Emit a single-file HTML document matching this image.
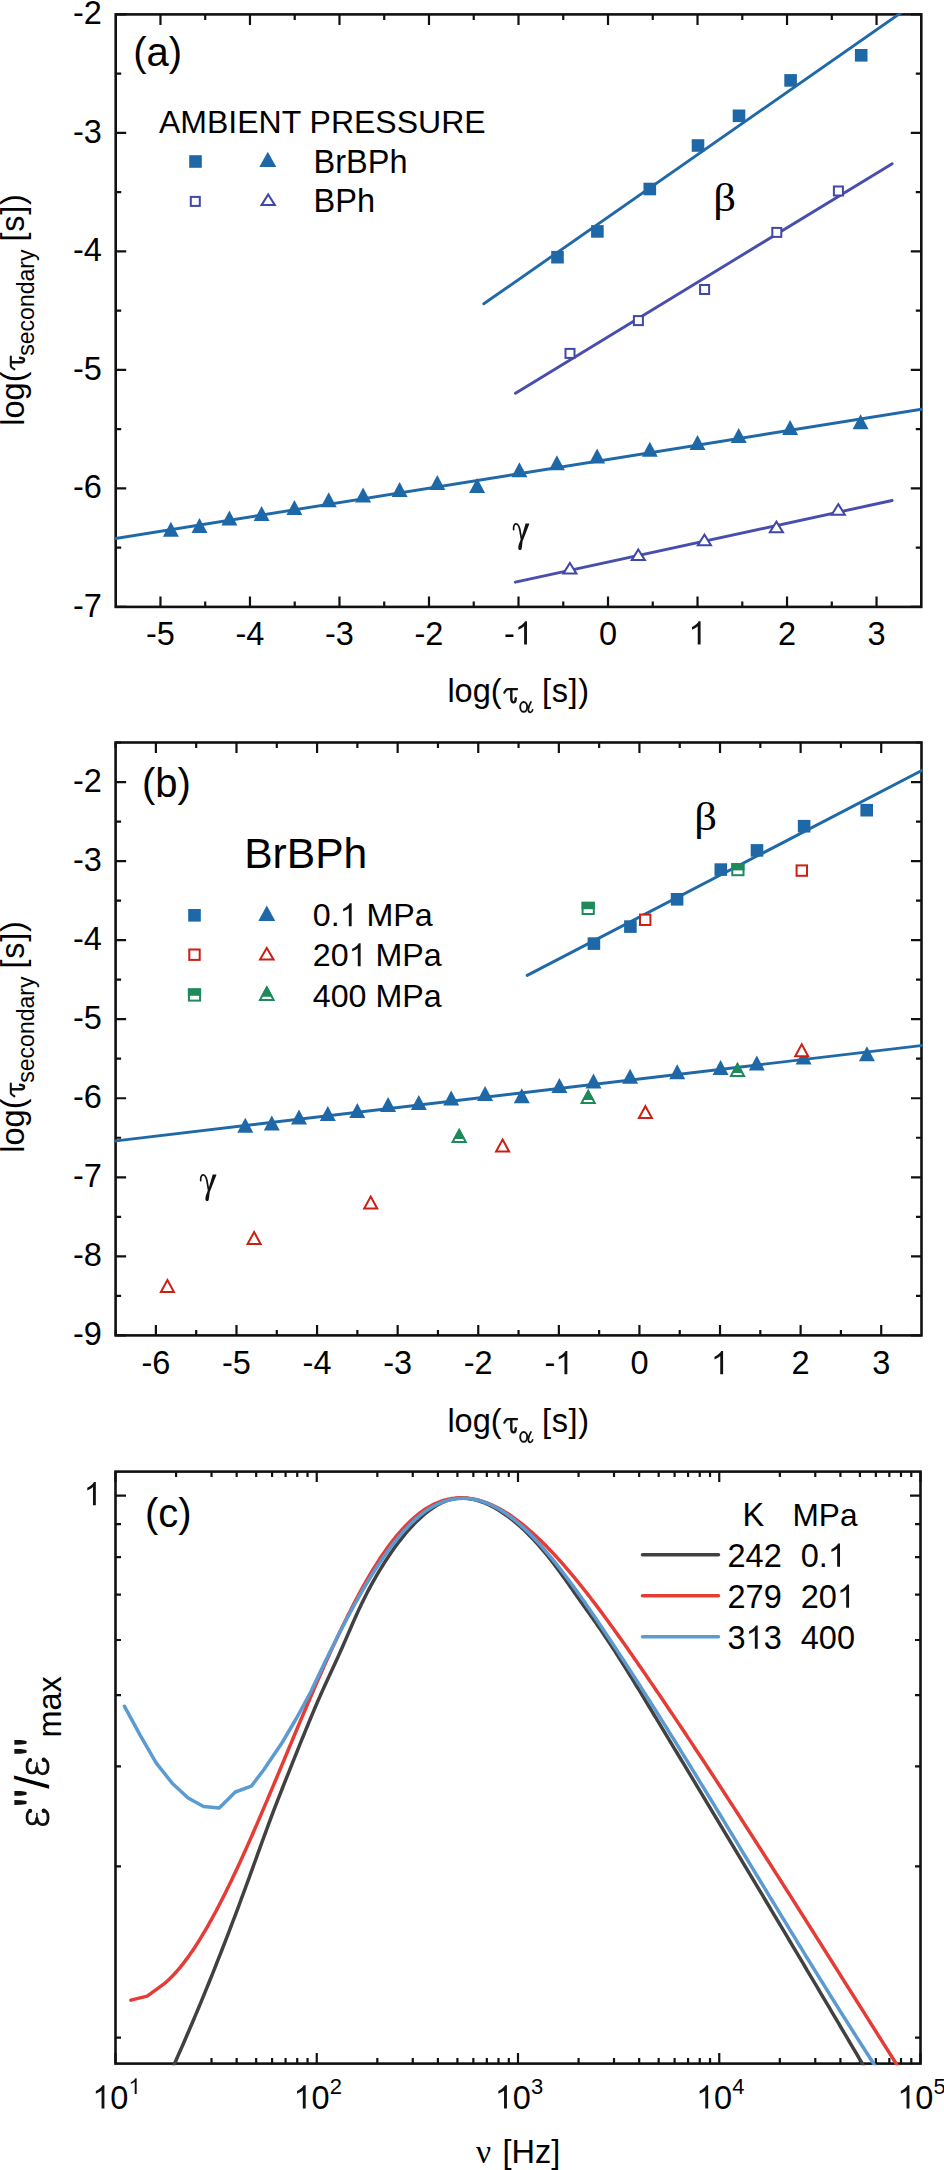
<!DOCTYPE html>
<html><head><meta charset="utf-8"><title>figure</title>
<style>html,body{margin:0;padding:0;background:#fff;}svg{display:block;}</style>
</head><body>
<svg width="944" height="2170" viewBox="0 0 944 2170">
<rect width="944" height="2170" fill="#fff"/>
<g id="pa">
<rect x="115.7" y="14.4" width="805.6" height="592.5" fill="none" stroke="#111" stroke-width="2.6"/>
<path d="M160.46 606.9V596.4M160.46 14.4V24.9M249.97 606.9V596.4M249.97 14.4V24.9M339.48 606.9V596.4M339.48 14.4V24.9M428.99 606.9V596.4M428.99 14.4V24.9M518.5 606.9V596.4M518.5 14.4V24.9M608.01 606.9V596.4M608.01 14.4V24.9M697.52 606.9V596.4M697.52 14.4V24.9M787.03 606.9V596.4M787.03 14.4V24.9M876.54 606.9V596.4M876.54 14.4V24.9" stroke="#111" stroke-width="2.2" fill="none"/>
<path d="M205.21 606.9V601.4M205.21 14.4V19.9M294.72 606.9V601.4M294.72 14.4V19.9M384.23 606.9V601.4M384.23 14.4V19.9M473.74 606.9V601.4M473.74 14.4V19.9M563.26 606.9V601.4M563.26 14.4V19.9M652.77 606.9V601.4M652.77 14.4V19.9M742.28 606.9V601.4M742.28 14.4V19.9M831.79 606.9V601.4M831.79 14.4V19.9" stroke="#111" stroke-width="2.2" fill="none"/>
<path d="M115.7 14.4H126.2M921.3 14.4H910.8M115.7 132.9H126.2M921.3 132.9H910.8M115.7 251.4H126.2M921.3 251.4H910.8M115.7 369.9H126.2M921.3 369.9H910.8M115.7 488.4H126.2M921.3 488.4H910.8M115.7 606.9H126.2M921.3 606.9H910.8" stroke="#111" stroke-width="2.2" fill="none"/>
<path d="M115.7 73.65H121.2M921.3 73.65H915.8M115.7 192.15H121.2M921.3 192.15H915.8M115.7 310.65H121.2M921.3 310.65H915.8M115.7 429.15H121.2M921.3 429.15H915.8M115.7 547.65H121.2M921.3 547.65H915.8" stroke="#111" stroke-width="2.2" fill="none"/>
<clipPath id="ca"><rect x="114.5" y="13.2" width="808" height="594.9"/></clipPath>
<g clip-path="url(#ca)">
<line x1="483.8" y1="303.8" x2="940" y2="-14.5" stroke="#2069a9" stroke-width="2.9" stroke-linecap="round"/>
<line x1="515.5" y1="393.2" x2="892.2" y2="163.7" stroke="#474eae" stroke-width="2.9" stroke-linecap="round"/>
<line x1="100" y1="541" x2="940" y2="406.2" stroke="#2069a9" stroke-width="2.9" stroke-linecap="round"/>
<line x1="515.4" y1="582.2" x2="892.1" y2="500.5" stroke="#474eae" stroke-width="2.9" stroke-linecap="round"/>
</g>
<rect x="551.2" y="250.9" width="12.6" height="12.6" fill="#1f68a8"/>
<rect x="591.1" y="225.1" width="12.6" height="12.6" fill="#1f68a8"/>
<rect x="643.5" y="182.7" width="12.6" height="12.6" fill="#1f68a8"/>
<rect x="691.7" y="139.2" width="12.6" height="12.6" fill="#1f68a8"/>
<rect x="732.7" y="109.5" width="12.6" height="12.6" fill="#1f68a8"/>
<rect x="784.3" y="74.1" width="12.6" height="12.6" fill="#1f68a8"/>
<rect x="854.9" y="49" width="12.6" height="12.6" fill="#1f68a8"/>
<rect x="565.5" y="348.9" width="9" height="9" fill="#fff" stroke="#4047a8" stroke-width="2.0"/>
<rect x="633.9" y="316.1" width="9" height="9" fill="#fff" stroke="#4047a8" stroke-width="2.0"/>
<rect x="700.1" y="285" width="9" height="9" fill="#fff" stroke="#4047a8" stroke-width="2.0"/>
<rect x="772.3" y="227.9" width="9" height="9" fill="#fff" stroke="#4047a8" stroke-width="2.0"/>
<rect x="833.9" y="186.5" width="9" height="9" fill="#fff" stroke="#4047a8" stroke-width="2.0"/>
<path d="M170.9 521.7L178.9 536.7L162.9 536.7Z" fill="#1f68a8"/>
<path d="M199.5 518.1L207.5 533.1L191.5 533.1Z" fill="#1f68a8"/>
<path d="M229.4 510.5L237.4 525.5L221.4 525.5Z" fill="#1f68a8"/>
<path d="M261.6 506L269.6 521L253.6 521Z" fill="#1f68a8"/>
<path d="M294.4 500.1L302.4 515.1L286.4 515.1Z" fill="#1f68a8"/>
<path d="M328.7 492.2L336.7 507.2L320.7 507.2Z" fill="#1f68a8"/>
<path d="M363.1 487.4L371.1 502.4L355.1 502.4Z" fill="#1f68a8"/>
<path d="M399.6 481.9L407.6 496.9L391.6 496.9Z" fill="#1f68a8"/>
<path d="M437.3 475L445.3 490L429.3 490Z" fill="#1f68a8"/>
<path d="M477.1 478.1L485.1 493.1L469.1 493.1Z" fill="#1f68a8"/>
<path d="M519.4 462.2L527.4 477.2L511.4 477.2Z" fill="#1f68a8"/>
<path d="M556.9 455.3L564.9 470.3L548.9 470.3Z" fill="#1f68a8"/>
<path d="M597.1 448.4L605.1 463.4L589.1 463.4Z" fill="#1f68a8"/>
<path d="M649.8 441.8L657.8 456.8L641.8 456.8Z" fill="#1f68a8"/>
<path d="M697.5 435L705.5 450L689.5 450Z" fill="#1f68a8"/>
<path d="M738.7 428L746.7 443L730.7 443Z" fill="#1f68a8"/>
<path d="M790.1 420.1L798.1 435.1L782.1 435.1Z" fill="#1f68a8"/>
<path d="M860.6 414.2L868.6 429.2L852.6 429.2Z" fill="#1f68a8"/>
<path d="M569.9 563L576.46 573.6L563.34 573.6Z" fill="#fff" stroke="#4047a8" stroke-width="2.0" stroke-linejoin="miter"/>
<path d="M638.3 549.5L644.86 560.1L631.74 560.1Z" fill="#fff" stroke="#4047a8" stroke-width="2.0" stroke-linejoin="miter"/>
<path d="M704.4 534.6L710.96 545.2L697.84 545.2Z" fill="#fff" stroke="#4047a8" stroke-width="2.0" stroke-linejoin="miter"/>
<path d="M776.4 521.6L782.96 532.2L769.84 532.2Z" fill="#fff" stroke="#4047a8" stroke-width="2.0" stroke-linejoin="miter"/>
<path d="M838.3 504.1L844.86 514.7L831.74 514.7Z" fill="#fff" stroke="#4047a8" stroke-width="2.0" stroke-linejoin="miter"/>
<text x="160.46" y="644.5" font-size="32.5" text-anchor="middle" style="font-family:'Liberation Sans',sans-serif" >-5</text>
<text x="249.97" y="644.5" font-size="32.5" text-anchor="middle" style="font-family:'Liberation Sans',sans-serif" >-4</text>
<text x="339.48" y="644.5" font-size="32.5" text-anchor="middle" style="font-family:'Liberation Sans',sans-serif" >-3</text>
<text x="428.99" y="644.5" font-size="32.5" text-anchor="middle" style="font-family:'Liberation Sans',sans-serif" >-2</text>
<path d="M763 0L583 0L583 1147C540 1106 483 1065 413 1024C343 983 280 952 223 930L223 1104C324 1151 412 1208 487 1276C562 1343 615 1409 646 1466L763 1466Z" transform="translate(514.87 644.5) scale(0.01587 -0.01587)" fill="#111"/>
<text x="504.05" y="644.5" font-size="32.5" style="font-family:'Liberation Sans',sans-serif" >-&#8199;</text>
<text x="608.01" y="644.5" font-size="32.5" text-anchor="middle" style="font-family:'Liberation Sans',sans-serif" >0</text>
<path d="M763 0L583 0L583 1147C540 1106 483 1065 413 1024C343 983 280 952 223 930L223 1104C324 1151 412 1208 487 1276C562 1343 615 1409 646 1466L763 1466Z" transform="translate(688.48 644.5) scale(0.01587 -0.01587)" fill="#111"/>
<text x="688.48" y="644.5" font-size="32.5" style="font-family:'Liberation Sans',sans-serif" >&#8199;</text>
<text x="787.03" y="644.5" font-size="32.5" text-anchor="middle" style="font-family:'Liberation Sans',sans-serif" >2</text>
<text x="876.54" y="644.5" font-size="32.5" text-anchor="middle" style="font-family:'Liberation Sans',sans-serif" >3</text>
<text x="101.8" y="24.2" font-size="32.5" text-anchor="end" style="font-family:'Liberation Sans',sans-serif" >-2</text>
<text x="101.8" y="142.7" font-size="32.5" text-anchor="end" style="font-family:'Liberation Sans',sans-serif" >-3</text>
<text x="101.8" y="261.2" font-size="32.5" text-anchor="end" style="font-family:'Liberation Sans',sans-serif" >-4</text>
<text x="101.8" y="379.7" font-size="32.5" text-anchor="end" style="font-family:'Liberation Sans',sans-serif" >-5</text>
<text x="101.8" y="498.2" font-size="32.5" text-anchor="end" style="font-family:'Liberation Sans',sans-serif" >-6</text>
<text x="101.8" y="616.7" font-size="32.5" text-anchor="end" style="font-family:'Liberation Sans',sans-serif" >-7</text>
<text x="133.2" y="66" font-size="40" text-anchor="start" style="font-family:'Liberation Sans',sans-serif" >(a)</text>
<text x="159" y="133.1" font-size="32" text-anchor="start" style="font-family:'Liberation Sans',sans-serif" >AMBIENT PRESSURE</text>
<text x="313.6" y="173.2" font-size="32.5" text-anchor="start" style="font-family:'Liberation Sans',sans-serif" >BrBPh</text>
<text x="313.6" y="212.3" font-size="32.5" text-anchor="start" style="font-family:'Liberation Sans',sans-serif" >BPh</text>
<rect x="189.2" y="155.2" width="12.6" height="12.6" fill="#1f68a8"/>
<path d="M267.8 151.8L276.3 167.1L259.3 167.1Z" fill="#1f68a8"/>
<rect x="190.8" y="196.9" width="9" height="9" fill="#fff" stroke="#4047a8" stroke-width="2.0"/>
<path d="M268.2 194.48L274.89 205.1L261.51 205.1Z" fill="#fff" stroke="#4047a8" stroke-width="2.0" stroke-linejoin="miter"/>
<text transform="translate(713.3 211) scale(1.11 1)" font-size="40.3" style="font-family:'Liberation Serif',serif">&#946;</text>
<g transform="translate(512.7 523)">
<path d="M0.9 6.6C0.6 3.2 1.6 0.9 3.3 0.9C5.4 0.9 6.4 3.2 7.2 7.0L8.9 16.8" fill="none" stroke="#111" stroke-width="1.7" stroke-linecap="round"/>
<path d="M12.9 0.4L16.6 0.4L16.4 1.4L10.2 17.6L7.9 17.6Z" fill="#111"/>
<path d="M8.0 16.8C6.4 20.2 5.4 23.4 5.6 25.6C5.8 27.4 8.4 27.8 8.9 25.7C9.4 23.6 9.6 20.4 10.1 16.8Z" fill="#111"/>
</g>
<text x="447.4" y="702.3" font-size="32.5" style="font-family:'Liberation Sans',sans-serif">log(</text>
<g transform="translate(503.2 702.3)"><path d="M1.1 -9.6C2.1 -11.6 3.0 -13.1 4.6 -13.2L13.9 -13.2" fill="none" stroke="#111" stroke-width="2.1" stroke-linecap="round"/><path d="M8.1 -12.8L8.1 -3.6C8.1 -1.0 9.1 0.1 10.4 0.1C11.7 0.1 12.4 -1.8 12.6 -4.0" fill="none" stroke="#111" stroke-width="2.4" stroke-linecap="round"/></g>
<g transform="translate(0 0)">
<ellipse cx="523.7" cy="706.9" rx="3.5" ry="4.9" fill="none" stroke="#111" stroke-width="1.9"/>
<path d="M531.0 702.0C529.6 704.4 528.3 707.4 528.3 709.5C528.3 711.6 529.5 712.3 530.5 712.3C531.5 712.3 532.3 711.2 532.7 709.8" fill="none" stroke="#111" stroke-width="1.7" stroke-linecap="round"/>
</g>
<text x="542.1" y="702.3" font-size="32.5" letter-spacing="0.6" style="font-family:'Liberation Sans',sans-serif">[s])</text>
<g transform="translate(24 425) rotate(-90)">
<text x="-0.7" y="0" font-size="32.5" style="font-family:'Liberation Sans',sans-serif">log(</text>
<g transform="translate(54.6 0)"><path d="M1.1 -9.6C2.1 -11.6 3.0 -13.1 4.6 -13.2L13.9 -13.2" fill="none" stroke="#111" stroke-width="2.1" stroke-linecap="round"/><path d="M8.1 -12.8L8.1 -3.6C8.1 -1.0 9.1 0.1 10.4 0.1C11.7 0.1 12.4 -1.8 12.6 -4.0" fill="none" stroke="#111" stroke-width="2.4" stroke-linecap="round"/></g>
<text x="69.3" y="10.0" font-size="23" style="font-family:'Liberation Sans',sans-serif">secondary</text>
<text x="183.4" y="0" font-size="32.5" letter-spacing="0.8" style="font-family:'Liberation Sans',sans-serif">[s])</text>
</g>
</g>
<g id="pb">
<rect x="115.6" y="742.5" width="805.9" height="592.9" fill="none" stroke="#111" stroke-width="2.6"/>
<path d="M155.89 1335.4V1324.9M155.89 742.5V753M236.48 1335.4V1324.9M236.48 742.5V753M317.07 1335.4V1324.9M317.07 742.5V753M397.66 1335.4V1324.9M397.66 742.5V753M478.25 1335.4V1324.9M478.25 742.5V753M558.85 1335.4V1324.9M558.85 742.5V753M639.43 1335.4V1324.9M639.43 742.5V753M720.02 1335.4V1324.9M720.02 742.5V753M800.62 1335.4V1324.9M800.62 742.5V753M881.21 1335.4V1324.9M881.21 742.5V753" stroke="#111" stroke-width="2.2" fill="none"/>
<path d="M115.6 1335.4V1329.9M115.6 742.5V748M196.19 1335.4V1329.9M196.19 742.5V748M276.78 1335.4V1329.9M276.78 742.5V748M357.37 1335.4V1329.9M357.37 742.5V748M437.96 1335.4V1329.9M437.96 742.5V748M518.55 1335.4V1329.9M518.55 742.5V748M599.14 1335.4V1329.9M599.14 742.5V748M679.73 1335.4V1329.9M679.73 742.5V748M760.32 1335.4V1329.9M760.32 742.5V748M840.91 1335.4V1329.9M840.91 742.5V748" stroke="#111" stroke-width="2.2" fill="none"/>
<path d="M115.6 782.03H126.1M921.5 782.03H911M115.6 861.08H126.1M921.5 861.08H911M115.6 940.13H126.1M921.5 940.13H911M115.6 1019.19H126.1M921.5 1019.19H911M115.6 1098.24H126.1M921.5 1098.24H911M115.6 1177.29H126.1M921.5 1177.29H911M115.6 1256.35H126.1M921.5 1256.35H911M115.6 1335.4H126.1M921.5 1335.4H911" stroke="#111" stroke-width="2.2" fill="none"/>
<path d="M115.6 742.5H121.1M921.5 742.5H916M115.6 821.55H121.1M921.5 821.55H916M115.6 900.61H121.1M921.5 900.61H916M115.6 979.66H121.1M921.5 979.66H916M115.6 1058.71H121.1M921.5 1058.71H916M115.6 1137.77H121.1M921.5 1137.77H916M115.6 1216.82H121.1M921.5 1216.82H916M115.6 1295.87H121.1M921.5 1295.87H916" stroke="#111" stroke-width="2.2" fill="none"/>
<clipPath id="cb"><rect x="114.4" y="741.3" width="808.3" height="595.3"/></clipPath>
<g clip-path="url(#cb)">
<line x1="527.2" y1="975.4" x2="940" y2="761.1" stroke="#2069a9" stroke-width="2.9" stroke-linecap="round"/>
<line x1="100" y1="1142.75" x2="940" y2="1043.35" stroke="#2069a9" stroke-width="2.9" stroke-linecap="round"/>
</g>
<rect x="587.6" y="937.3" width="12.6" height="12.6" fill="#1f68a8"/>
<rect x="624.1" y="920.3" width="12.6" height="12.6" fill="#1f68a8"/>
<rect x="670.8" y="893" width="12.6" height="12.6" fill="#1f68a8"/>
<rect x="714.5" y="863.3" width="12.6" height="12.6" fill="#1f68a8"/>
<rect x="750.7" y="844.1" width="12.6" height="12.6" fill="#1f68a8"/>
<rect x="797.8" y="819.9" width="12.6" height="12.6" fill="#1f68a8"/>
<rect x="860.4" y="803.9" width="12.6" height="12.6" fill="#1f68a8"/>
<path d="M245.3 1117.7L253.3 1132.7L237.3 1132.7Z" fill="#1f68a8"/>
<path d="M271.8 1115.6L279.8 1130.6L263.8 1130.6Z" fill="#1f68a8"/>
<path d="M299 1109.6L307 1124.6L291 1124.6Z" fill="#1f68a8"/>
<path d="M327.8 1106L335.8 1121L319.8 1121Z" fill="#1f68a8"/>
<path d="M357.3 1103L365.3 1118L349.3 1118Z" fill="#1f68a8"/>
<path d="M388.1 1097L396.1 1112L380.1 1112Z" fill="#1f68a8"/>
<path d="M418.8 1095L426.8 1110L410.8 1110Z" fill="#1f68a8"/>
<path d="M451.2 1090.5L459.2 1105.5L443.2 1105.5Z" fill="#1f68a8"/>
<path d="M485.1 1086L493.1 1101L477.1 1101Z" fill="#1f68a8"/>
<path d="M521.8 1088.2L529.8 1103.2L513.8 1103.2Z" fill="#1f68a8"/>
<path d="M559.4 1078.1L567.4 1093.1L551.4 1093.1Z" fill="#1f68a8"/>
<path d="M593.5 1073.4L601.5 1088.4L585.5 1088.4Z" fill="#1f68a8"/>
<path d="M630.1 1068.7L638.1 1083.7L622.1 1083.7Z" fill="#1f68a8"/>
<path d="M677.2 1064.2L685.2 1079.2L669.2 1079.2Z" fill="#1f68a8"/>
<path d="M720.6 1060L728.6 1075L712.6 1075Z" fill="#1f68a8"/>
<path d="M756.8 1055.5L764.8 1070.5L748.8 1070.5Z" fill="#1f68a8"/>
<path d="M803.6 1049.4L811.6 1064.4L795.6 1064.4Z" fill="#1f68a8"/>
<path d="M866.9 1046.2L874.9 1061.2L858.9 1061.2Z" fill="#1f68a8"/>
<rect x="640" y="914.6" width="10.4" height="10.4" fill="#fff" stroke="#cc1f14" stroke-width="2.0"/>
<rect x="796.6" y="865.4" width="10.4" height="10.4" fill="#fff" stroke="#cc1f14" stroke-width="2.0"/>
<rect x="582.6" y="902.8" width="11.2" height="11.2" fill="#fff" stroke="#1e8a5c" stroke-width="2.0"/>
<rect x="581.6" y="901.8" width="13.2" height="7.39" fill="#1e8a5c"/>
<rect x="732.3" y="864" width="11.2" height="11.2" fill="#fff" stroke="#1e8a5c" stroke-width="2.0"/>
<rect x="731.3" y="863" width="13.2" height="7.39" fill="#1e8a5c"/>
<path d="M167.4 1280.08L173.91 1292L160.89 1292Z" fill="#fff" stroke="#cc1f14" stroke-width="2.0" stroke-linejoin="miter"/>
<path d="M254.1 1231.98L260.61 1243.9L247.59 1243.9Z" fill="#fff" stroke="#cc1f14" stroke-width="2.0" stroke-linejoin="miter"/>
<path d="M370.7 1196.58L377.21 1208.5L364.19 1208.5Z" fill="#fff" stroke="#cc1f14" stroke-width="2.0" stroke-linejoin="miter"/>
<path d="M502.6 1139.48L509.11 1151.4L496.09 1151.4Z" fill="#fff" stroke="#cc1f14" stroke-width="2.0" stroke-linejoin="miter"/>
<path d="M645.4 1106.18L651.91 1118.1L638.89 1118.1Z" fill="#fff" stroke="#cc1f14" stroke-width="2.0" stroke-linejoin="miter"/>
<path d="M801.7 1044.28L808.21 1056.2L795.19 1056.2Z" fill="#fff" stroke="#cc1f14" stroke-width="2.0" stroke-linejoin="miter"/>
<path d="M459.2 1130.17L465.8 1142.1L452.6 1142.1Z" fill="#fff" stroke="#1e8a5c" stroke-width="2.0" stroke-linejoin="miter"/>
<path d="M459.2 1128.1L465.18 1138.9L453.22 1138.9Z" fill="#1e8a5c"/>
<path d="M588.2 1091.17L594.8 1103.1L581.6 1103.1Z" fill="#fff" stroke="#1e8a5c" stroke-width="2.0" stroke-linejoin="miter"/>
<path d="M588.2 1089.1L594.18 1099.9L582.22 1099.9Z" fill="#1e8a5c"/>
<path d="M737.5 1064.17L744.1 1076.1L730.9 1076.1Z" fill="#fff" stroke="#1e8a5c" stroke-width="2.0" stroke-linejoin="miter"/>
<path d="M737.5 1062.1L743.48 1072.9L731.52 1072.9Z" fill="#1e8a5c"/>
<text x="155.89" y="1374.3" font-size="32.5" text-anchor="middle" style="font-family:'Liberation Sans',sans-serif" >-6</text>
<text x="236.48" y="1374.3" font-size="32.5" text-anchor="middle" style="font-family:'Liberation Sans',sans-serif" >-5</text>
<text x="317.07" y="1374.3" font-size="32.5" text-anchor="middle" style="font-family:'Liberation Sans',sans-serif" >-4</text>
<text x="397.66" y="1374.3" font-size="32.5" text-anchor="middle" style="font-family:'Liberation Sans',sans-serif" >-3</text>
<text x="478.25" y="1374.3" font-size="32.5" text-anchor="middle" style="font-family:'Liberation Sans',sans-serif" >-2</text>
<path d="M763 0L583 0L583 1147C540 1106 483 1065 413 1024C343 983 280 952 223 930L223 1104C324 1151 412 1208 487 1276C562 1343 615 1409 646 1466L763 1466Z" transform="translate(555.22 1374.3) scale(0.01587 -0.01587)" fill="#111"/>
<text x="544.4" y="1374.3" font-size="32.5" style="font-family:'Liberation Sans',sans-serif" >-&#8199;</text>
<text x="639.43" y="1374.3" font-size="32.5" text-anchor="middle" style="font-family:'Liberation Sans',sans-serif" >0</text>
<path d="M763 0L583 0L583 1147C540 1106 483 1065 413 1024C343 983 280 952 223 930L223 1104C324 1151 412 1208 487 1276C562 1343 615 1409 646 1466L763 1466Z" transform="translate(710.99 1374.3) scale(0.01587 -0.01587)" fill="#111"/>
<text x="710.99" y="1374.3" font-size="32.5" style="font-family:'Liberation Sans',sans-serif" >&#8199;</text>
<text x="800.62" y="1374.3" font-size="32.5" text-anchor="middle" style="font-family:'Liberation Sans',sans-serif" >2</text>
<text x="881.21" y="1374.3" font-size="32.5" text-anchor="middle" style="font-family:'Liberation Sans',sans-serif" >3</text>
<text x="101.8" y="791.83" font-size="32.5" text-anchor="end" style="font-family:'Liberation Sans',sans-serif" >-2</text>
<text x="101.8" y="870.88" font-size="32.5" text-anchor="end" style="font-family:'Liberation Sans',sans-serif" >-3</text>
<text x="101.8" y="949.93" font-size="32.5" text-anchor="end" style="font-family:'Liberation Sans',sans-serif" >-4</text>
<text x="101.8" y="1028.99" font-size="32.5" text-anchor="end" style="font-family:'Liberation Sans',sans-serif" >-5</text>
<text x="101.8" y="1108.04" font-size="32.5" text-anchor="end" style="font-family:'Liberation Sans',sans-serif" >-6</text>
<text x="101.8" y="1187.09" font-size="32.5" text-anchor="end" style="font-family:'Liberation Sans',sans-serif" >-7</text>
<text x="101.8" y="1266.15" font-size="32.5" text-anchor="end" style="font-family:'Liberation Sans',sans-serif" >-8</text>
<text x="101.8" y="1345.2" font-size="32.5" text-anchor="end" style="font-family:'Liberation Sans',sans-serif" >-9</text>
<text x="142" y="797" font-size="40" text-anchor="start" style="font-family:'Liberation Sans',sans-serif" >(b)</text>
<text x="244.2" y="868.3" font-size="42.6" text-anchor="start" style="font-family:'Liberation Sans',sans-serif" >BrBPh</text>
<rect x="188.2" y="909" width="12.6" height="12.6" fill="#1f68a8"/>
<path d="M266.8 905.4L275.3 920.9L258.3 920.9Z" fill="#1f68a8"/>
<path d="M763 0L583 0L583 1147C540 1106 483 1065 413 1024C343 983 280 952 223 930L223 1104C324 1151 412 1208 487 1276C562 1343 615 1409 646 1466L763 1466Z" transform="translate(339.65 926.2) scale(0.01572 -0.01572)" fill="#111"/>
<text x="312.8" y="926.2" font-size="32.2" style="font-family:'Liberation Sans',sans-serif" >0.&#8199; MPa</text>
<rect x="189.3" y="949.5" width="10.4" height="10.4" fill="#fff" stroke="#cc1f14" stroke-width="2.0"/>
<path d="M266.8 948.08L273.55 959.6L260.05 959.6Z" fill="#fff" stroke="#cc1f14" stroke-width="2.0" stroke-linejoin="miter"/>
<path d="M763 0L583 0L583 1147C540 1106 483 1065 413 1024C343 983 280 952 223 930L223 1104C324 1151 412 1208 487 1276C562 1343 615 1409 646 1466L763 1466Z" transform="translate(348.62 966.2) scale(0.01572 -0.01572)" fill="#111"/>
<text x="312.8" y="966.2" font-size="32.2" style="font-family:'Liberation Sans',sans-serif" >20&#8199; MPa</text>
<rect x="188.9" y="989.4" width="11.2" height="11.2" fill="#fff" stroke="#1e8a5c" stroke-width="2.0"/>
<rect x="187.9" y="988.4" width="13.2" height="7.39" fill="#1e8a5c"/>
<path d="M266.8 987.58L273.61 1000L259.99 1000Z" fill="#fff" stroke="#1e8a5c" stroke-width="2.0" stroke-linejoin="miter"/>
<path d="M266.8 985.5L272.92 996.66L260.68 996.66Z" fill="#1e8a5c"/>
<text x="312.8" y="1006.9" font-size="32.2" text-anchor="start" style="font-family:'Liberation Sans',sans-serif" >400 MPa</text>
<text transform="translate(694.2 829.7) scale(1.11 1)" font-size="40.3" style="font-family:'Liberation Serif',serif">&#946;</text>
<g transform="translate(199.8 1174)">
<path d="M0.9 6.6C0.6 3.2 1.6 0.9 3.3 0.9C5.4 0.9 6.4 3.2 7.2 7.0L8.9 16.8" fill="none" stroke="#111" stroke-width="1.7" stroke-linecap="round"/>
<path d="M12.9 0.4L16.6 0.4L16.4 1.4L10.2 17.6L7.9 17.6Z" fill="#111"/>
<path d="M8.0 16.8C6.4 20.2 5.4 23.4 5.6 25.6C5.8 27.4 8.4 27.8 8.9 25.7C9.4 23.6 9.6 20.4 10.1 16.8Z" fill="#111"/>
</g>
<text x="447.4" y="1432.3" font-size="32.5" style="font-family:'Liberation Sans',sans-serif">log(</text>
<g transform="translate(503.2 1432.3)"><path d="M1.1 -9.6C2.1 -11.6 3.0 -13.1 4.6 -13.2L13.9 -13.2" fill="none" stroke="#111" stroke-width="2.1" stroke-linecap="round"/><path d="M8.1 -12.8L8.1 -3.6C8.1 -1.0 9.1 0.1 10.4 0.1C11.7 0.1 12.4 -1.8 12.6 -4.0" fill="none" stroke="#111" stroke-width="2.4" stroke-linecap="round"/></g>
<g transform="translate(0 730)">
<ellipse cx="523.7" cy="706.9" rx="3.5" ry="4.9" fill="none" stroke="#111" stroke-width="1.9"/>
<path d="M531.0 702.0C529.6 704.4 528.3 707.4 528.3 709.5C528.3 711.6 529.5 712.3 530.5 712.3C531.5 712.3 532.3 711.2 532.7 709.8" fill="none" stroke="#111" stroke-width="1.7" stroke-linecap="round"/>
</g>
<text x="542.1" y="1432.3" font-size="32.5" letter-spacing="0.6" style="font-family:'Liberation Sans',sans-serif">[s])</text>
<g transform="translate(24 1152) rotate(-90)">
<text x="-0.7" y="0" font-size="32.5" style="font-family:'Liberation Sans',sans-serif">log(</text>
<g transform="translate(54.6 0)"><path d="M1.1 -9.6C2.1 -11.6 3.0 -13.1 4.6 -13.2L13.9 -13.2" fill="none" stroke="#111" stroke-width="2.1" stroke-linecap="round"/><path d="M8.1 -12.8L8.1 -3.6C8.1 -1.0 9.1 0.1 10.4 0.1C11.7 0.1 12.4 -1.8 12.6 -4.0" fill="none" stroke="#111" stroke-width="2.4" stroke-linecap="round"/></g>
<text x="69.3" y="10.0" font-size="23" style="font-family:'Liberation Sans',sans-serif">secondary</text>
<text x="183.4" y="0" font-size="32.5" letter-spacing="0.8" style="font-family:'Liberation Sans',sans-serif">[s])</text>
</g>
</g>
<g id="pc">
<path d="M115.5 2063.6V2053.1M115.5 1471.6V1482.1M316.75 2063.6V2053.1M316.75 1471.6V1482.1M518 2063.6V2053.1M518 1471.6V1482.1M719.25 2063.6V2053.1M719.25 1471.6V1482.1M920.5 2063.6V2053.1M920.5 1471.6V1482.1" stroke="#111" stroke-width="2.2" fill="none"/>
<path d="M176.08 2063.6V2058.1M176.08 1471.6V1477.1M211.52 2063.6V2058.1M211.52 1471.6V1477.1M236.66 2063.6V2058.1M236.66 1471.6V1477.1M256.17 2063.6V2058.1M256.17 1471.6V1477.1M272.1 2063.6V2058.1M272.1 1471.6V1477.1M285.58 2063.6V2058.1M285.58 1471.6V1477.1M297.25 2063.6V2058.1M297.25 1471.6V1477.1M307.54 2063.6V2058.1M307.54 1471.6V1477.1M377.33 2063.6V2058.1M377.33 1471.6V1477.1M412.77 2063.6V2058.1M412.77 1471.6V1477.1M437.91 2063.6V2058.1M437.91 1471.6V1477.1M457.42 2063.6V2058.1M457.42 1471.6V1477.1M473.35 2063.6V2058.1M473.35 1471.6V1477.1M486.83 2063.6V2058.1M486.83 1471.6V1477.1M498.5 2063.6V2058.1M498.5 1471.6V1477.1M508.79 2063.6V2058.1M508.79 1471.6V1477.1M578.58 2063.6V2058.1M578.58 1471.6V1477.1M614.02 2063.6V2058.1M614.02 1471.6V1477.1M639.16 2063.6V2058.1M639.16 1471.6V1477.1M658.67 2063.6V2058.1M658.67 1471.6V1477.1M674.6 2063.6V2058.1M674.6 1471.6V1477.1M688.08 2063.6V2058.1M688.08 1471.6V1477.1M699.75 2063.6V2058.1M699.75 1471.6V1477.1M710.04 2063.6V2058.1M710.04 1471.6V1477.1M779.83 2063.6V2058.1M779.83 1471.6V1477.1M815.27 2063.6V2058.1M815.27 1471.6V1477.1M840.41 2063.6V2058.1M840.41 1471.6V1477.1M859.92 2063.6V2058.1M859.92 1471.6V1477.1M875.85 2063.6V2058.1M875.85 1471.6V1477.1M889.33 2063.6V2058.1M889.33 1471.6V1477.1M901 2063.6V2058.1M901 1471.6V1477.1M911.29 2063.6V2058.1M911.29 1471.6V1477.1" stroke="#111" stroke-width="2.2" fill="none"/>
<path d="M115.5 1495.6H126M920.5 1495.6H910" stroke="#111" stroke-width="2.2" fill="none"/>
<path d="M115.5 1524.1H121M920.5 1524.1H915M115.5 1557.1H121M920.5 1557.1H915M115.5 1594.7H121M920.5 1594.7H915M115.5 1640H121M920.5 1640H915M115.5 1695.1H121M920.5 1695.1H915M115.5 1766.3H121M920.5 1766.3H915M115.5 1866.4H121M920.5 1866.4H915M115.5 2037.6H121M920.5 2037.6H915" stroke="#111" stroke-width="2.2" fill="none"/>
<rect x="115.5" y="1471.6" width="805" height="592" fill="none" stroke="#111" stroke-width="2.6"/>
<clipPath id="cc"><rect x="115.5" y="1471.6" width="805" height="593.6"/></clipPath>
<g clip-path="url(#cc)">
<path d="M171 2071.4 L172.5 2068.09 L174 2064.76 L175.5 2061.41 L177 2058.04 L178.5 2054.66 L180 2051.27 L181.5 2047.86 L183 2044.43 L184.5 2040.99 L186 2037.53 L187.5 2034.05 L189 2030.56 L190.5 2027.05 L192 2023.53 L193.5 2019.99 L195 2016.43 L196.5 2012.86 L198 2009.28 L199.5 2005.68 L201 2002.06 L202.5 1998.42 L204 1994.77 L205.5 1991.11 L207 1987.43 L208.5 1983.73 L210 1980.02 L211.5 1976.29 L213 1972.55 L214.5 1968.79 L216 1965.01 L217.5 1961.22 L219 1957.42 L220.5 1953.6 L222 1949.76 L223.5 1945.91 L225 1942.04 L226.5 1938.15 L228 1934.26 L229.5 1930.34 L231 1926.41 L232.5 1922.47 L234 1918.51 L235.5 1914.53 L237 1910.54 L238.5 1906.53 L240 1902.51 L241.5 1898.47 L243 1894.42 L244.5 1890.35 L246 1886.27 L247.5 1882.17 L249 1878.06 L250.5 1873.93 L252 1869.8 L253.5 1865.65 L255 1861.5 L256.5 1857.35 L258 1853.19 L259.5 1849.05 L261 1844.9 L262.5 1840.77 L264 1836.66 L265.5 1832.56 L267 1828.48 L268.5 1824.42 L270 1820.38 L271.5 1816.38 L273 1812.41 L274.5 1808.47 L276 1804.57 L277.5 1800.7 L279 1796.86 L280.5 1793.04 L282 1789.25 L283.5 1785.47 L285 1781.7 L286.5 1777.95 L288 1774.2 L289.5 1770.45 L291 1766.69 L292.5 1762.93 L294 1759.18 L295.5 1755.42 L297 1751.67 L298.5 1747.93 L300 1744.2 L301.5 1740.47 L303 1736.76 L304.5 1733.06 L306 1729.38 L307.5 1725.72 L309 1722.08 L310.5 1718.46 L312 1714.87 L313.5 1711.31 L315 1707.77 L316.5 1704.27 L318 1700.79 L319.5 1697.36 L321 1693.95 L322.5 1690.59 L324 1687.25 L325.5 1683.95 L327 1680.67 L328.5 1677.41 L330 1674.16 L331.5 1670.92 L333 1667.68 L334.5 1664.43 L336 1661.18 L337.5 1657.9 L339 1654.61 L340.5 1651.29 L342 1647.93 L343.5 1644.53 L345 1641.1 L346.5 1637.65 L348 1634.18 L349.5 1630.7 L351 1627.24 L352.5 1623.79 L354 1620.37 L355.5 1616.99 L357 1613.66 L358.5 1610.38 L360 1607.17 L361.5 1604.02 L363 1600.94 L364.5 1597.91 L366 1594.94 L367.5 1592.03 L369 1589.17 L370.5 1586.37 L372 1583.62 L373.5 1580.93 L375 1578.28 L376.5 1575.68 L378 1573.13 L379.5 1570.62 L381 1568.16 L382.5 1565.74 L384 1563.37 L385.5 1561.03 L387 1558.73 L388.5 1556.47 L390 1554.25 L391.5 1552.07 L393 1549.93 L394.5 1547.83 L396 1545.77 L397.5 1543.75 L399 1541.76 L400.5 1539.82 L402 1537.92 L403.5 1536.06 L405 1534.23 L406.5 1532.45 L408 1530.71 L409.5 1529.01 L411 1527.35 L412.5 1525.73 L414 1524.15 L415.5 1522.61 L417 1521.11 L418.5 1519.65 L420 1518.23 L421.5 1516.85 L423 1515.52 L424.5 1514.23 L426 1512.98 L427.5 1511.78 L429 1510.62 L430.5 1509.51 L432 1508.45 L433.5 1507.43 L435 1506.47 L436.5 1505.55 L438 1504.69 L439.5 1503.88 L441 1503.12 L442.5 1502.41 L444 1501.76 L445.5 1501.17 L447 1500.63 L448.5 1500.14 L450 1499.71 L451.5 1499.33 L453 1499.01 L454.5 1498.73 L456 1498.51 L457.5 1498.34 L459 1498.22 L460.5 1498.14 L462 1498.12 L463.5 1498.14 L465 1498.21 L466.5 1498.32 L468 1498.48 L469.5 1498.68 L471 1498.93 L472.5 1499.21 L474 1499.54 L475.5 1499.91 L477 1500.32 L478.5 1500.77 L480 1501.26 L481.5 1501.79 L483 1502.35 L484.5 1502.95 L486 1503.58 L487.5 1504.25 L489 1504.95 L490.5 1505.69 L492 1506.45 L493.5 1507.25 L495 1508.08 L496.5 1508.94 L498 1509.83 L499.5 1510.75 L501 1511.7 L502.5 1512.69 L504 1513.7 L505.5 1514.74 L507 1515.81 L508.5 1516.91 L510 1518.05 L511.5 1519.21 L513 1520.4 L514.5 1521.62 L516 1522.87 L517.5 1524.15 L519 1525.46 L520.5 1526.79 L522 1528.16 L523.5 1529.56 L525 1530.98 L526.5 1532.43 L528 1533.92 L529.5 1535.43 L531 1536.97 L532.5 1538.53 L534 1540.13 L535.5 1541.75 L537 1543.4 L538.5 1545.08 L540 1546.79 L541.5 1548.53 L543 1550.29 L544.5 1552.08 L546 1553.9 L547.5 1555.74 L549 1557.61 L550.5 1559.51 L552 1561.44 L553.5 1563.39 L555 1565.37 L556.5 1567.38 L558 1569.41 L559.5 1571.46 L561 1573.52 L562.5 1575.61 L564 1577.71 L565.5 1579.82 L567 1581.95 L568.5 1584.08 L570 1586.22 L571.5 1588.36 L573 1590.51 L574.5 1592.65 L576 1594.8 L577.5 1596.93 L579 1599.07 L580.5 1601.19 L582 1603.31 L583.5 1605.42 L585 1607.53 L586.5 1609.64 L588 1611.75 L589.5 1613.86 L591 1615.97 L592.5 1618.09 L594 1620.21 L595.5 1622.35 L597 1624.49 L598.5 1626.65 L600 1628.82 L601.5 1631.01 L603 1633.22 L604.5 1635.44 L606 1637.68 L607.5 1639.93 L609 1642.2 L610.5 1644.49 L612 1646.79 L613.5 1649.1 L615 1651.42 L616.5 1653.76 L618 1656.11 L619.5 1658.47 L621 1660.84 L622.5 1663.22 L624 1665.61 L625.5 1668.01 L627 1670.42 L628.5 1672.84 L630 1675.26 L631.5 1677.7 L633 1680.14 L634.5 1682.58 L636 1685.03 L637.5 1687.49 L639 1689.95 L640.5 1692.42 L642 1694.89 L643.5 1697.36 L645 1699.84 L646.5 1702.32 L648 1704.8 L649.5 1707.28 L651 1709.76 L652.5 1712.25 L654 1714.73 L655.5 1717.21 L657 1719.7 L658.5 1722.18 L660 1724.67 L661.5 1727.15 L663 1729.63 L664.5 1732.12 L666 1734.61 L667.5 1737.09 L669 1739.58 L670.5 1742.06 L672 1744.55 L673.5 1747.04 L675 1749.53 L676.5 1752.01 L678 1754.5 L679.5 1756.99 L681 1759.48 L682.5 1761.97 L684 1764.46 L685.5 1766.95 L687 1769.44 L688.5 1771.93 L690 1774.42 L691.5 1776.91 L693 1779.4 L694.5 1781.89 L696 1784.39 L697.5 1786.88 L699 1789.37 L700.5 1791.87 L702 1794.36 L703.5 1796.85 L705 1799.35 L706.5 1801.84 L708 1804.34 L709.5 1806.83 L711 1809.33 L712.5 1811.83 L714 1814.32 L715.5 1816.82 L717 1819.32 L718.5 1821.82 L720 1824.32 L721.5 1826.82 L723 1829.32 L724.5 1831.81 L726 1834.32 L727.5 1836.82 L729 1839.32 L730.5 1841.82 L732 1844.32 L733.5 1846.82 L735 1849.33 L736.5 1851.83 L738 1854.33 L739.5 1856.84 L741 1859.34 L742.5 1861.85 L744 1864.35 L745.5 1866.86 L747 1869.36 L748.5 1871.87 L750 1874.38 L751.5 1876.89 L753 1879.39 L754.5 1881.9 L756 1884.41 L757.5 1886.92 L759 1889.43 L760.5 1891.94 L762 1894.45 L763.5 1896.96 L765 1899.48 L766.5 1901.99 L768 1904.5 L769.5 1907.02 L771 1909.53 L772.5 1912.04 L774 1914.56 L775.5 1917.07 L777 1919.59 L778.5 1922.11 L780 1924.62 L781.5 1927.14 L783 1929.66 L784.5 1932.18 L786 1934.7 L787.5 1937.22 L789 1939.74 L790.5 1942.26 L792 1944.78 L793.5 1947.3 L795 1949.82 L796.5 1952.34 L798 1954.87 L799.5 1957.39 L801 1959.91 L802.5 1962.44 L804 1964.96 L805.5 1967.49 L807 1970.02 L808.5 1972.54 L810 1975.07 L811.5 1977.6 L813 1980.13 L814.5 1982.66 L816 1985.19 L817.5 1987.72 L819 1990.25 L820.5 1992.78 L822 1995.31 L823.5 1997.85 L825 2000.38 L826.5 2002.91 L828 2005.45 L829.5 2007.98 L831 2010.52 L832.5 2013.05 L834 2015.59 L835.5 2018.13 L837 2020.67 L838.5 2023.2 L840 2025.74 L841.5 2028.28 L843 2030.82 L844.5 2033.37 L846 2035.91 L847.5 2038.45 L849 2040.99 L850.5 2043.54 L852 2046.08 L853.5 2048.63 L855 2051.17 L856.5 2053.72 L858 2056.26 L859.5 2058.81 L861 2061.36 L862.5 2063.91 L864 2066.46 L865.5 2069.01 L867 2071.56 L867.3 2072.07" fill="none" stroke="#414141" stroke-width="3.5" stroke-linejoin="round" stroke-linecap="round"/>
<path d="M130.9 2000.1 L147.2 1996.1 L163.7 1984.09 L165.2 1982.85 L166.7 1981.54 L168.2 1980.18 L169.7 1978.76 L171.2 1977.28 L172.7 1975.75 L174.2 1974.17 L175.7 1972.53 L177.2 1970.84 L178.7 1969.09 L180.2 1967.3 L181.7 1965.45 L183.2 1963.56 L184.7 1961.61 L186.2 1959.62 L187.7 1957.58 L189.2 1955.49 L190.7 1953.36 L192.2 1951.18 L193.7 1948.95 L195.2 1946.68 L196.7 1944.37 L198.2 1942.02 L199.7 1939.62 L201.2 1937.18 L202.7 1934.71 L204.2 1932.19 L205.7 1929.63 L207.2 1927.04 L208.7 1924.4 L210.2 1921.73 L211.7 1919.03 L213.2 1916.28 L214.7 1913.51 L216.2 1910.7 L217.7 1907.86 L219.2 1904.98 L220.7 1902.07 L222.2 1899.13 L223.7 1896.16 L225.2 1893.16 L226.7 1890.14 L228.2 1887.08 L229.7 1884 L231.2 1880.89 L232.7 1877.75 L234.2 1874.59 L235.7 1871.4 L237.2 1868.19 L238.7 1864.96 L240.2 1861.7 L241.7 1858.43 L243.2 1855.13 L244.7 1851.81 L246.2 1848.47 L247.7 1845.11 L249.2 1841.74 L250.7 1838.35 L252.2 1834.94 L253.7 1831.51 L255.2 1828.07 L256.7 1824.62 L258.2 1821.15 L259.7 1817.67 L261.2 1814.18 L262.7 1810.67 L264.2 1807.16 L265.7 1803.63 L267.2 1800.1 L268.7 1796.55 L270.2 1793 L271.7 1789.44 L273.2 1785.87 L274.7 1782.3 L276.2 1778.73 L277.7 1775.15 L279.2 1771.56 L280.7 1767.98 L282.2 1764.39 L283.7 1760.8 L285.2 1757.2 L286.7 1753.61 L288.2 1750.02 L289.7 1746.43 L291.2 1742.85 L292.7 1739.26 L294.2 1735.68 L295.7 1732.1 L297.2 1728.53 L298.7 1724.97 L300.2 1721.41 L301.7 1717.86 L303.2 1714.32 L304.7 1710.78 L306.2 1707.26 L307.7 1703.74 L309.2 1700.24 L310.7 1696.74 L312.2 1693.26 L313.7 1689.79 L315.2 1686.34 L316.7 1682.89 L318.2 1679.47 L319.7 1676.05 L321.2 1672.66 L322.7 1669.28 L324.2 1665.91 L325.7 1662.57 L327.2 1659.24 L328.7 1655.93 L330.2 1652.64 L331.7 1649.37 L333.2 1646.12 L334.7 1642.89 L336.2 1639.68 L337.7 1636.5 L339.2 1633.34 L340.7 1630.2 L342.2 1627.09 L343.7 1624 L345.2 1620.94 L346.7 1617.91 L348.2 1614.9 L349.7 1611.92 L351.2 1608.96 L352.7 1606.04 L354.2 1603.15 L355.7 1600.28 L357.2 1597.45 L358.7 1594.64 L360.2 1591.87 L361.7 1589.13 L363.2 1586.43 L364.7 1583.76 L366.2 1581.12 L367.7 1578.52 L369.2 1575.95 L370.7 1573.42 L372.2 1570.93 L373.7 1568.47 L375.2 1566.05 L376.7 1563.67 L378.2 1561.33 L379.7 1559.04 L381.2 1556.78 L382.7 1554.56 L384.2 1552.38 L385.7 1550.24 L387.2 1548.14 L388.7 1546.09 L390.2 1544.07 L391.7 1542.1 L393.2 1540.17 L394.7 1538.28 L396.2 1536.43 L397.7 1534.63 L399.2 1532.86 L400.7 1531.14 L402.2 1529.46 L403.7 1527.83 L405.2 1526.24 L406.7 1524.69 L408.2 1523.18 L409.7 1521.72 L411.2 1520.3 L412.7 1518.93 L414.2 1517.6 L415.7 1516.31 L417.2 1515.07 L418.7 1513.88 L420.2 1512.72 L421.7 1511.62 L423.2 1510.55 L424.7 1509.54 L426.2 1508.57 L427.7 1507.64 L429.2 1506.76 L430.7 1505.92 L432.2 1505.12 L433.7 1504.37 L435.2 1503.66 L436.7 1503 L438.2 1502.37 L439.7 1501.79 L441.2 1501.25 L442.7 1500.75 L444.2 1500.29 L445.7 1499.87 L447.2 1499.49 L448.7 1499.15 L450.2 1498.85 L451.7 1498.59 L453.2 1498.37 L454.7 1498.19 L456.2 1498.04 L457.7 1497.94 L459.2 1497.87 L460.7 1497.84 L462.2 1497.84 L463.7 1497.88 L465.2 1497.96 L466.7 1498.07 L468.2 1498.22 L469.7 1498.4 L471.2 1498.62 L472.7 1498.87 L474.2 1499.15 L475.7 1499.47 L477.2 1499.82 L478.7 1500.21 L480.2 1500.63 L481.7 1501.08 L483.2 1501.56 L484.7 1502.07 L486.2 1502.62 L487.7 1503.19 L489.2 1503.8 L490.7 1504.44 L492.2 1505.1 L493.7 1505.8 L495.2 1506.52 L496.7 1507.28 L498.2 1508.06 L499.7 1508.87 L501.2 1509.71 L502.7 1510.57 L504.2 1511.46 L505.7 1512.38 L507.2 1513.33 L508.7 1514.3 L510.2 1515.3 L511.7 1516.32 L513.2 1517.37 L514.7 1518.44 L516.2 1519.54 L517.7 1520.66 L519.2 1521.81 L520.7 1522.97 L522.2 1524.17 L523.7 1525.38 L525.2 1526.62 L526.7 1527.87 L528.2 1529.15 L529.7 1530.46 L531.2 1531.78 L532.7 1533.12 L534.2 1534.48 L535.7 1535.87 L537.2 1537.27 L538.7 1538.69 L540.2 1540.13 L541.7 1541.59 L543.2 1543.07 L544.7 1544.56 L546.2 1546.08 L547.7 1547.61 L549.2 1549.16 L550.7 1550.73 L552.2 1552.31 L553.7 1553.91 L555.2 1555.53 L556.7 1557.16 L558.2 1558.81 L559.7 1560.48 L561.2 1562.16 L562.7 1563.86 L564.2 1565.57 L565.7 1567.3 L567.2 1569.04 L568.7 1570.8 L570.2 1572.57 L571.7 1574.35 L573.2 1576.15 L574.7 1577.96 L576.2 1579.79 L577.7 1581.63 L579.2 1583.48 L580.7 1585.35 L582.2 1587.22 L583.7 1589.11 L585.2 1591.01 L586.7 1592.92 L588.2 1594.85 L589.7 1596.78 L591.2 1598.73 L592.7 1600.69 L594.2 1602.65 L595.7 1604.63 L597.2 1606.62 L598.7 1608.62 L600.2 1610.62 L601.7 1612.64 L603.2 1614.67 L604.7 1616.7 L606.2 1618.74 L607.7 1620.79 L609.2 1622.85 L610.7 1624.92 L612.2 1627 L613.7 1629.08 L615.2 1631.17 L616.7 1633.26 L618.2 1635.37 L619.7 1637.48 L621.2 1639.59 L622.7 1641.71 L624.2 1643.84 L625.7 1645.98 L627.2 1648.11 L628.7 1650.26 L630.2 1652.41 L631.7 1654.56 L633.2 1656.72 L634.7 1658.88 L636.2 1661.04 L637.7 1663.21 L639.2 1665.38 L640.7 1667.56 L642.2 1669.74 L643.7 1671.92 L645.2 1674.1 L646.7 1676.29 L648.2 1678.48 L649.7 1680.67 L651.2 1682.87 L652.7 1685.07 L654.2 1687.27 L655.7 1689.47 L657.2 1691.68 L658.7 1693.89 L660.2 1696.1 L661.7 1698.32 L663.2 1700.53 L664.7 1702.75 L666.2 1704.97 L667.7 1707.2 L669.2 1709.43 L670.7 1711.66 L672.2 1713.89 L673.7 1716.13 L675.2 1718.36 L676.7 1720.6 L678.2 1722.85 L679.7 1725.09 L681.2 1727.34 L682.7 1729.59 L684.2 1731.84 L685.7 1734.09 L687.2 1736.35 L688.7 1738.61 L690.2 1740.87 L691.7 1743.13 L693.2 1745.4 L694.7 1747.67 L696.2 1749.94 L697.7 1752.21 L699.2 1754.49 L700.7 1756.76 L702.2 1759.04 L703.7 1761.32 L705.2 1763.6 L706.7 1765.89 L708.2 1768.17 L709.7 1770.46 L711.2 1772.75 L712.7 1775.05 L714.2 1777.34 L715.7 1779.64 L717.2 1781.94 L718.7 1784.24 L720.2 1786.54 L721.7 1788.84 L723.2 1791.15 L724.7 1793.46 L726.2 1795.76 L727.7 1798.08 L729.2 1800.39 L730.7 1802.7 L732.2 1805.02 L733.7 1807.34 L735.2 1809.66 L736.7 1811.98 L738.2 1814.3 L739.7 1816.62 L741.2 1818.95 L742.7 1821.28 L744.2 1823.6 L745.7 1825.93 L747.2 1828.27 L748.7 1830.6 L750.2 1832.93 L751.7 1835.27 L753.2 1837.61 L754.7 1839.95 L756.2 1842.29 L757.7 1844.63 L759.2 1846.97 L760.7 1849.31 L762.2 1851.66 L763.7 1854.01 L765.2 1856.35 L766.7 1858.7 L768.2 1861.05 L769.7 1863.4 L771.2 1865.75 L772.7 1868.11 L774.2 1870.46 L775.7 1872.82 L777.2 1875.17 L778.7 1877.53 L780.2 1879.89 L781.7 1882.25 L783.2 1884.61 L784.7 1886.97 L786.2 1889.33 L787.7 1891.7 L789.2 1894.06 L790.7 1896.43 L792.2 1898.79 L793.7 1901.16 L795.2 1903.53 L796.7 1905.9 L798.2 1908.26 L799.7 1910.63 L801.2 1913 L802.7 1915.38 L804.2 1917.75 L805.7 1920.12 L807.2 1922.49 L808.7 1924.87 L810.2 1927.24 L811.7 1929.62 L813.2 1931.99 L814.7 1934.37 L816.2 1936.74 L817.7 1939.12 L819.2 1941.5 L820.7 1943.88 L822.2 1946.25 L823.7 1948.63 L825.2 1951.01 L826.7 1953.39 L828.2 1955.77 L829.7 1958.15 L831.2 1960.53 L832.7 1962.91 L834.2 1965.29 L835.7 1967.67 L837.2 1970.05 L838.7 1972.43 L840.2 1974.82 L841.7 1977.2 L843.2 1979.58 L844.7 1981.96 L846.2 1984.34 L847.7 1986.73 L849.2 1989.11 L850.7 1991.49 L852.2 1993.87 L853.7 1996.25 L855.2 1998.64 L856.7 2001.02 L858.2 2003.4 L859.7 2005.78 L861.2 2008.16 L862.7 2010.55 L864.2 2012.93 L865.7 2015.31 L867.2 2017.69 L868.7 2020.07 L870.2 2022.45 L871.7 2024.83 L873.2 2027.21 L874.7 2029.59 L876.2 2031.97 L877.7 2034.35 L879.2 2036.73 L880.7 2039.11 L882.2 2041.48 L883.7 2043.86 L885.2 2046.24 L886.7 2048.61 L888.2 2050.99 L889.7 2053.36 L891.2 2055.74 L892.7 2058.11 L894.2 2060.49 L895.7 2062.86 L897.2 2065.23 L898.7 2067.6 L900.2 2069.98 L901.5 2072.03" fill="none" stroke="#e53c35" stroke-width="3.5" stroke-linejoin="round" stroke-linecap="round"/>
<path d="M124.5 1706.4 L140.4 1735.6 L156.3 1763.1 L172.2 1783.2 L188.1 1798 L203.6 1806.5 L219.2 1808.1 L235.3 1792 L251.4 1786.1 L263.6 1770 L282.2 1742.5 L296.6 1718 L311 1691.47 L312.5 1688.27 L314 1685.08 L315.5 1681.9 L317 1678.74 L318.5 1675.58 L320 1672.44 L321.5 1669.31 L323 1666.19 L324.5 1663.09 L326 1660 L327.5 1656.93 L329 1653.87 L330.5 1650.83 L332 1647.8 L333.5 1644.8 L335 1641.8 L336.5 1638.83 L338 1635.87 L339.5 1632.94 L341 1630.02 L342.5 1627.12 L344 1624.24 L345.5 1621.39 L347 1618.55 L348.5 1615.73 L350 1612.94 L351.5 1610.17 L353 1607.42 L354.5 1604.7 L356 1602 L357.5 1599.32 L359 1596.67 L360.5 1594.04 L362 1591.44 L363.5 1588.87 L365 1586.32 L366.5 1583.8 L368 1581.3 L369.5 1578.84 L371 1576.4 L372.5 1573.99 L374 1571.61 L375.5 1569.27 L377 1566.95 L378.5 1564.66 L380 1562.4 L381.5 1560.18 L383 1557.99 L384.5 1555.83 L386 1553.7 L387.5 1551.61 L389 1549.55 L390.5 1547.53 L392 1545.54 L393.5 1543.59 L395 1541.67 L396.5 1539.79 L398 1537.95 L399.5 1536.14 L401 1534.38 L402.5 1532.65 L404 1530.96 L405.5 1529.31 L407 1527.69 L408.5 1526.12 L410 1524.59 L411.5 1523.1 L413 1521.66 L414.5 1520.25 L416 1518.89 L417.5 1517.57 L419 1516.29 L420.5 1515.06 L422 1513.87 L423.5 1512.73 L425 1511.63 L426.5 1510.58 L428 1509.57 L429.5 1508.61 L431 1507.69 L432.5 1506.82 L434 1505.99 L435.5 1505.21 L437 1504.47 L438.5 1503.77 L440 1503.12 L441.5 1502.51 L443 1501.94 L444.5 1501.42 L446 1500.93 L447.5 1500.49 L449 1500.09 L450.5 1499.74 L452 1499.42 L453.5 1499.15 L455 1498.91 L456.5 1498.72 L458 1498.57 L459.5 1498.46 L461 1498.38 L462.5 1498.35 L464 1498.36 L465.5 1498.41 L467 1498.49 L468.5 1498.62 L470 1498.78 L471.5 1498.98 L473 1499.22 L474.5 1499.5 L476 1499.81 L477.5 1500.17 L479 1500.56 L480.5 1500.98 L482 1501.45 L483.5 1501.95 L485 1502.48 L486.5 1503.06 L488 1503.66 L489.5 1504.31 L491 1504.99 L492.5 1505.7 L494 1506.45 L495.5 1507.23 L497 1508.05 L498.5 1508.9 L500 1509.79 L501.5 1510.71 L503 1511.66 L504.5 1512.65 L506 1513.67 L507.5 1514.72 L509 1515.8 L510.5 1516.92 L512 1518.06 L513.5 1519.24 L515 1520.45 L516.5 1521.68 L518 1522.95 L519.5 1524.24 L521 1525.57 L522.5 1526.92 L524 1528.3 L525.5 1529.71 L527 1531.14 L528.5 1532.6 L530 1534.09 L531.5 1535.6 L533 1537.14 L534.5 1538.7 L536 1540.29 L537.5 1541.9 L539 1543.53 L540.5 1545.19 L542 1546.87 L543.5 1548.57 L545 1550.29 L546.5 1552.04 L548 1553.8 L549.5 1555.59 L551 1557.39 L552.5 1559.22 L554 1561.07 L555.5 1562.93 L557 1564.81 L558.5 1566.71 L560 1568.63 L561.5 1570.57 L563 1572.52 L564.5 1574.49 L566 1576.47 L567.5 1578.47 L569 1580.48 L570.5 1582.51 L572 1584.55 L573.5 1586.61 L575 1588.68 L576.5 1590.76 L578 1592.86 L579.5 1594.97 L581 1597.08 L582.5 1599.21 L584 1601.35 L585.5 1603.51 L587 1605.67 L588.5 1607.84 L590 1610.02 L591.5 1612.2 L593 1614.4 L594.5 1616.6 L596 1618.81 L597.5 1621.03 L599 1623.26 L600.5 1625.49 L602 1627.72 L603.5 1629.97 L605 1632.21 L606.5 1634.46 L608 1636.72 L609.5 1638.98 L611 1641.24 L612.5 1643.51 L614 1645.79 L615.5 1648.06 L617 1650.35 L618.5 1652.63 L620 1654.92 L621.5 1657.22 L623 1659.52 L624.5 1661.82 L626 1664.13 L627.5 1666.44 L629 1668.75 L630.5 1671.07 L632 1673.39 L633.5 1675.72 L635 1678.05 L636.5 1680.38 L638 1682.72 L639.5 1685.06 L641 1687.41 L642.5 1689.76 L644 1692.11 L645.5 1694.46 L647 1696.82 L648.5 1699.18 L650 1701.55 L651.5 1703.92 L653 1706.29 L654.5 1708.66 L656 1711.04 L657.5 1713.42 L659 1715.8 L660.5 1718.19 L662 1720.58 L663.5 1722.97 L665 1725.37 L666.5 1727.76 L668 1730.16 L669.5 1732.57 L671 1734.97 L672.5 1737.38 L674 1739.79 L675.5 1742.2 L677 1744.62 L678.5 1747.04 L680 1749.46 L681.5 1751.88 L683 1754.3 L684.5 1756.73 L686 1759.16 L687.5 1761.59 L689 1764.02 L690.5 1766.46 L692 1768.9 L693.5 1771.33 L695 1773.77 L696.5 1776.22 L698 1778.66 L699.5 1781.11 L701 1783.55 L702.5 1786 L704 1788.45 L705.5 1790.9 L707 1793.36 L708.5 1795.81 L710 1798.27 L711.5 1800.73 L713 1803.18 L714.5 1805.64 L716 1808.1 L717.5 1810.57 L719 1813.03 L720.5 1815.49 L722 1817.96 L723.5 1820.42 L725 1822.89 L726.5 1825.36 L728 1827.83 L729.5 1830.3 L731 1832.77 L732.5 1835.24 L734 1837.71 L735.5 1840.18 L737 1842.65 L738.5 1845.12 L740 1847.6 L741.5 1850.07 L743 1852.54 L744.5 1855.02 L746 1857.49 L747.5 1859.96 L749 1862.44 L750.5 1864.91 L752 1867.38 L753.5 1869.86 L755 1872.33 L756.5 1874.81 L758 1877.28 L759.5 1879.75 L761 1882.23 L762.5 1884.7 L764 1887.17 L765.5 1889.64 L767 1892.11 L768.5 1894.58 L770 1897.05 L771.5 1899.52 L773 1901.99 L774.5 1904.46 L776 1906.93 L777.5 1909.39 L779 1911.86 L780.5 1914.32 L782 1916.79 L783.5 1919.25 L785 1921.71 L786.5 1924.17 L788 1926.63 L789.5 1929.09 L791 1931.55 L792.5 1934 L794 1936.46 L795.5 1938.91 L797 1941.36 L798.5 1943.81 L800 1946.26 L801.5 1948.71 L803 1951.15 L804.5 1953.59 L806 1956.04 L807.5 1958.48 L809 1960.91 L810.5 1963.35 L812 1965.78 L813.5 1968.22 L815 1970.65 L816.5 1973.07 L818 1975.5 L819.5 1977.92 L821 1980.35 L822.5 1982.76 L824 1985.18 L825.5 1987.6 L827 1990.01 L828.5 1992.42 L830 1994.83 L831.5 1997.23 L833 1999.63 L834.5 2002.03 L836 2004.43 L837.5 2006.82 L839 2009.21 L840.5 2011.6 L842 2013.99 L843.5 2016.37 L845 2018.75 L846.5 2021.13 L848 2023.5 L849.5 2025.87 L851 2028.24 L852.5 2030.6 L854 2032.96 L855.5 2035.32 L857 2037.67 L858.5 2040.02 L860 2042.37 L861.5 2044.71 L863 2047.05 L864.5 2049.39 L866 2051.72 L867.5 2054.05 L869 2056.38 L870.5 2058.7 L872 2061.02 L873.5 2063.33 L875 2065.64 L876.5 2067.94 L878 2070.25 L879 2071.78" fill="none" stroke="#5b9bd2" stroke-width="3.5" stroke-linejoin="round" stroke-linecap="round"/>
</g>
<path d="M763 0L583 0L583 1147C540 1106 483 1065 413 1024C343 983 280 952 223 930L223 1104C324 1151 412 1208 487 1276C562 1343 615 1409 646 1466L763 1466Z" transform="translate(92.31 2108.6) scale(0.01587 -0.01587)" fill="#111"/>
<text x="92.31" y="2108.6" font-size="32.5" style="font-family:'Liberation Sans',sans-serif" >&#8199;0</text>
<path d="M763 0L583 0L583 1147C540 1106 483 1065 413 1024C343 983 280 952 223 930L223 1104C324 1151 412 1208 487 1276C562 1343 615 1409 646 1466L763 1466Z" transform="translate(128.46 2094.1) scale(0.01074 -0.01074)" fill="#111"/>
<text x="128.46" y="2094.1" font-size="22" style="font-family:'Liberation Sans',sans-serif" >&#8199;</text>
<path d="M763 0L583 0L583 1147C540 1106 483 1065 413 1024C343 983 280 952 223 930L223 1104C324 1151 412 1208 487 1276C562 1343 615 1409 646 1466L763 1466Z" transform="translate(293.56 2108.6) scale(0.01587 -0.01587)" fill="#111"/>
<text x="293.56" y="2108.6" font-size="32.5" style="font-family:'Liberation Sans',sans-serif" >&#8199;0</text>
<text x="329.71" y="2094.1" font-size="22" text-anchor="start" style="font-family:'Liberation Sans',sans-serif" >2</text>
<path d="M763 0L583 0L583 1147C540 1106 483 1065 413 1024C343 983 280 952 223 930L223 1104C324 1151 412 1208 487 1276C562 1343 615 1409 646 1466L763 1466Z" transform="translate(494.81 2108.6) scale(0.01587 -0.01587)" fill="#111"/>
<text x="494.81" y="2108.6" font-size="32.5" style="font-family:'Liberation Sans',sans-serif" >&#8199;0</text>
<text x="530.96" y="2094.1" font-size="22" text-anchor="start" style="font-family:'Liberation Sans',sans-serif" >3</text>
<path d="M763 0L583 0L583 1147C540 1106 483 1065 413 1024C343 983 280 952 223 930L223 1104C324 1151 412 1208 487 1276C562 1343 615 1409 646 1466L763 1466Z" transform="translate(696.06 2108.6) scale(0.01587 -0.01587)" fill="#111"/>
<text x="696.06" y="2108.6" font-size="32.5" style="font-family:'Liberation Sans',sans-serif" >&#8199;0</text>
<text x="732.21" y="2094.1" font-size="22" text-anchor="start" style="font-family:'Liberation Sans',sans-serif" >4</text>
<path d="M763 0L583 0L583 1147C540 1106 483 1065 413 1024C343 983 280 952 223 930L223 1104C324 1151 412 1208 487 1276C562 1343 615 1409 646 1466L763 1466Z" transform="translate(897.31 2108.6) scale(0.01587 -0.01587)" fill="#111"/>
<text x="897.31" y="2108.6" font-size="32.5" style="font-family:'Liberation Sans',sans-serif" >&#8199;0</text>
<text x="933.46" y="2094.1" font-size="22" text-anchor="start" style="font-family:'Liberation Sans',sans-serif" >5</text>
<path d="M763 0L583 0L583 1147C540 1106 483 1065 413 1024C343 983 280 952 223 930L223 1104C324 1151 412 1208 487 1276C562 1343 615 1409 646 1466L763 1466Z" transform="translate(83.73 1505.3) scale(0.01587 -0.01587)" fill="#111"/>
<text x="83.73" y="1505.3" font-size="32.5" style="font-family:'Liberation Sans',sans-serif" >&#8199;</text>
<text x="145" y="1527" font-size="40" text-anchor="start" style="font-family:'Liberation Sans',sans-serif" >(c)</text>
<text x="742.6" y="1525.6" font-size="32.5" text-anchor="start" style="font-family:'Liberation Sans',sans-serif" >K</text>
<text x="792.5" y="1525.6" font-size="31.6" text-anchor="start" style="font-family:'Liberation Sans',sans-serif" >MPa</text>
<line x1="642.5" y1="1554.8" x2="718.5" y2="1554.8" stroke="#414141" stroke-width="3.5" stroke-linecap="round"/>
<text x="727.5" y="1566.8" font-size="32.5" text-anchor="start" style="font-family:'Liberation Sans',sans-serif" >242</text>
<path d="M763 0L583 0L583 1147C540 1106 483 1065 413 1024C343 983 280 952 223 930L223 1104C324 1151 412 1208 487 1276C562 1343 615 1409 646 1466L763 1466Z" transform="translate(827.9 1566.8) scale(0.01587 -0.01587)" fill="#111"/>
<text x="800.8" y="1566.8" font-size="32.5" style="font-family:'Liberation Sans',sans-serif" >0.&#8199;</text>
<line x1="642.5" y1="1595.75" x2="718.5" y2="1595.75" stroke="#e53c35" stroke-width="3.5" stroke-linecap="round"/>
<text x="727.5" y="1607.8" font-size="32.5" text-anchor="start" style="font-family:'Liberation Sans',sans-serif" >279</text>
<path d="M763 0L583 0L583 1147C540 1106 483 1065 413 1024C343 983 280 952 223 930L223 1104C324 1151 412 1208 487 1276C562 1343 615 1409 646 1466L763 1466Z" transform="translate(836.95 1607.8) scale(0.01587 -0.01587)" fill="#111"/>
<text x="800.8" y="1607.8" font-size="32.5" style="font-family:'Liberation Sans',sans-serif" >20&#8199;</text>
<line x1="642.5" y1="1636.7" x2="718.5" y2="1636.7" stroke="#5b9bd2" stroke-width="3.5" stroke-linecap="round"/>
<path d="M763 0L583 0L583 1147C540 1106 483 1065 413 1024C343 983 280 952 223 930L223 1104C324 1151 412 1208 487 1276C562 1343 615 1409 646 1466L763 1466Z" transform="translate(745.57 1648.8) scale(0.01587 -0.01587)" fill="#111"/>
<text x="727.5" y="1648.8" font-size="32.5" style="font-family:'Liberation Sans',sans-serif" >3&#8199;3</text>
<text x="800.8" y="1648.8" font-size="32.5" text-anchor="start" style="font-family:'Liberation Sans',sans-serif" >400</text>
<text transform="translate(476 2163.2)" font-size="33.5" style="font-family:'Liberation Serif',serif">&#957;</text>
<text x="502.4" y="2163.2" font-size="32.5" style="font-family:'Liberation Sans',sans-serif">[Hz]</text>
<g transform="translate(48.5 1830) rotate(-90)">
<text x="41.2" y="0" font-size="48" style="font-family:'Liberation Sans',sans-serif">/</text>
<text x="92.41" y="12.3" font-size="32.5" style="font-family:'Liberation Sans',sans-serif">max</text>
</g>
<path d="M14.4 1739.9L21 1740L26.4 1740.9Q26.9 1742.3 26.4 1743.7L21 1744.6L14.4 1744.7Z" fill="#111"/>
<path d="M14.4 1749L21 1749.1L26.4 1750Q26.9 1751.4 26.4 1752.8L21 1753.7L14.4 1753.8Z" fill="#111"/>
<path d="M14.4 1791L21 1791.1L26.4 1792Q26.9 1793.4 26.4 1794.8L21 1795.7L14.4 1795.8Z" fill="#111"/>
<path d="M14.4 1800.1L21 1800.2L26.4 1801.1Q26.9 1802.5 26.4 1803.9L21 1804.8L14.4 1804.9Z" fill="#111"/>
<g transform="translate(0 0)" fill="none" stroke="#111" stroke-linecap="round">
<path d="M29.9 1810.9C27.6 1812 26.9 1815 27.0 1818C27.2 1822.3 29.5 1823.9 32 1823.9C34.7 1823.9 36.5 1821.9 36.9 1818.5" stroke-width="2.7"/>
<path d="M36.9 1818.5C37.4 1822.2 39.8 1824.7 42.7 1824.7C46.1 1824.7 48.1 1822 48.1 1817.5C48.1 1813.6 46.4 1811.1 43.9 1810.7" stroke-width="2.8"/>
<path d="M36.9 1813.6L36.9 1819" stroke-width="1.5"/>
<circle cx="30.1" cy="1810.9" r="2.1" fill="#111" stroke="none"/>
<circle cx="43.8" cy="1810.7" r="2.2" fill="#111" stroke="none"/>
</g>
<g transform="translate(0 -50.9)" fill="none" stroke="#111" stroke-linecap="round">
<path d="M29.9 1810.9C27.6 1812 26.9 1815 27.0 1818C27.2 1822.3 29.5 1823.9 32 1823.9C34.7 1823.9 36.5 1821.9 36.9 1818.5" stroke-width="2.7"/>
<path d="M36.9 1818.5C37.4 1822.2 39.8 1824.7 42.7 1824.7C46.1 1824.7 48.1 1822 48.1 1817.5C48.1 1813.6 46.4 1811.1 43.9 1810.7" stroke-width="2.8"/>
<path d="M36.9 1813.6L36.9 1819" stroke-width="1.5"/>
<circle cx="30.1" cy="1810.9" r="2.1" fill="#111" stroke="none"/>
<circle cx="43.8" cy="1810.7" r="2.2" fill="#111" stroke="none"/>
</g>
</g>
</svg>
</body></html>
